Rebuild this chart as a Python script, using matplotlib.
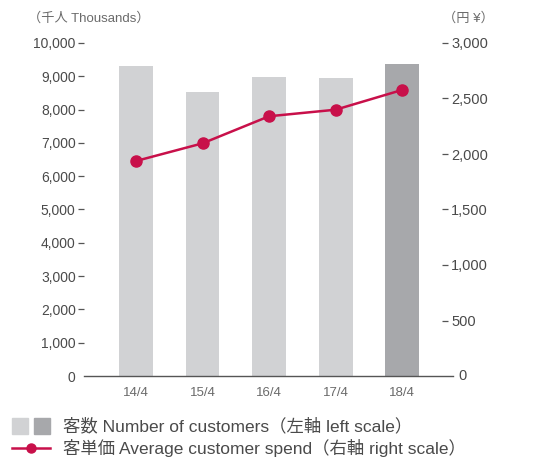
import matplotlib
matplotlib.use("Agg")
import matplotlib.pyplot as plt
from matplotlib.patches import Rectangle
from matplotlib.lines import Line2D

plt.rcParams['font.family'] = ['Liberation Sans', 'Noto Sans CJK JP', 'DejaVu Sans']

# --- data ----------------------------------------------------------
periods = ["14/4", "15/4", "16/4", "17/4", "18/4"]
customers = [9310, 8530, 8980, 8950, 9370]        # thousands, left axis
avg_spend = [1937, 2096, 2340, 2399, 2577]        # yen, right axis
bar_colors = ["#d1d2d4", "#d1d2d4", "#d1d2d4", "#d1d2d4", "#a7a8ab"]

left_ticks = [0, 1000, 2000, 3000, 4000, 5000, 6000, 7000, 8000, 9000, 10000]
right_ticks = [0, 500, 1000, 1500, 2000, 2500, 3000]

TEXT = "#4a4a4a"
RED = "#c8104a"
W, H = 535, 459


def fx(x):
    return x / W


def fy(y):
    return 1 - y / H


fig = plt.figure(figsize=(W / 100, H / 100), dpi=100)
ax = fig.add_axes([fx(84), fy(376), fx(442) - fx(84), fy(43) - fy(376)])
ax2 = ax.twinx()

x = list(range(len(periods)))
ax.bar(x, customers, width=0.51, color=bar_colors, zorder=1)
ax.set_xlim(-0.782, 4.60)
ax.set_ylim(0, 10000)

ax2.plot(x, avg_spend, color=RED, linewidth=1.8, marker="o", markersize=8, zorder=3)
ax2.set_ylim(0, 3000)

for a in (ax, ax2):
    for s in a.spines.values():
        s.set_visible(False)

# baseline (extends slightly past the right ticks)
ax.plot([0, (453 - 84) / (442 - 84)], [0, 0], transform=ax.get_yaxis_transform(),
        color="#555555", linewidth=1.0, clip_on=False, zorder=2)

ax.set_xticks(x)
ax.set_xticklabels(periods)
ax.tick_params(axis="x", length=0, pad=8, labelsize=9.5, labelcolor="#6a6a6a")

ax.set_yticks(left_ticks)
ax.set_yticklabels([f"{v:,}" for v in left_ticks])
ax.tick_params(axis="y", length=4.5, width=0.9, pad=1.5, color="#555555",
               labelsize=10, labelcolor=TEXT)
ax.yaxis.get_major_ticks()[0].tick1line.set_visible(False)

ax2.set_yticks(right_ticks)
ax2.set_yticklabels([""] + [f"{v:,}" for v in right_ticks[1:]])
ax2.tick_params(axis="y", length=4.5, width=0.9, pad=2, color="#555555",
                labelsize=10.5, labelcolor=TEXT)
ax2.yaxis.get_major_ticks()[0].tick2line.set_visible(False)
fig.text(fx(458), fy(376), "0", ha="left", va="center", fontsize=10.5, color=TEXT)

# axis unit headers
fig.text(fx(28), fy(18), "（千人 Thousands）", ha="left", va="center", fontsize=9.5, color="#6a6a6a")
fig.text(fx(494), fy(18), "（円 ¥）", ha="right", va="center", fontsize=9.5, color="#6a6a6a")

# legend drawn by hand (two swatches for bars)
fig.add_artist(Rectangle((fx(12), fy(434)), fx(16), fy(418) - fy(434),
                         transform=fig.transFigure, color=bar_colors[0]))
fig.add_artist(Rectangle((fx(34), fy(434)), fx(16), fy(418) - fy(434),
                         transform=fig.transFigure, color=bar_colors[-1]))
fig.add_artist(Line2D([fx(12), fx(50)], [fy(448), fy(448)], transform=fig.transFigure,
                      color=RED, linewidth=1.8))
fig.add_artist(Line2D([fx(31)], [fy(448)], transform=fig.transFigure,
                      color=RED, marker="o", markersize=6.5))
fig.text(fx(63), fy(426), "客数 Number of customers（左軸 left scale）",
         ha="left", va="center", fontsize=12.5, color=TEXT)
fig.text(fx(63), fy(448), "客単価 Average customer spend（右軸 right scale）",
         ha="left", va="center", fontsize=12.5, color=TEXT)

fig.savefig("out.png", dpi=100)
